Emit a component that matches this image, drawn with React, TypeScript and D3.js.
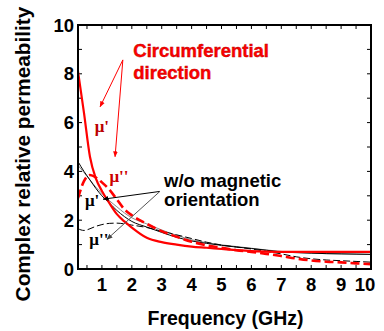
import React from 'react';
import * as d3 from 'd3';

// frequency grid (GHz)
const freq = [0.2, 0.4, 0.6, 0.8, 1, 1.25, 1.5, 1.75, 2, 2.5, 3, 3.5, 4, 4.5, 5, 5.5, 6, 6.5, 7, 7.5, 8, 8.5, 9, 9.5, 10];

// circumferential direction
const circReal = [8.1, 6.4, 4.6, 3.7, 3.2, 2.7, 2.25, 1.95, 1.7, 1.28, 1.1, 1.0, 0.92, 0.87, 0.82, 0.77, 0.73, 0.71, 0.7, 0.7, 0.7, 0.7, 0.7, 0.7, 0.7];
const circImag = [2.9, 3.6, 3.85, 3.75, 3.55, 3.25, 2.85, 2.45, 2.2, 1.85, 1.55, 1.32, 1.12, 0.97, 0.87, 0.77, 0.7, 0.62, 0.53, 0.43, 0.35, 0.3, 0.27, 0.23, 0.2];

// w/o magnetic orientation
const woReal = [4.4, 4.0, 3.65, 3.3, 3.0, 2.7, 2.4, 2.15, 1.95, 1.72, 1.5, 1.3, 1.15, 1.05, 0.97, 0.9, 0.84, 0.77, 0.7, 0.67, 0.65, 0.63, 0.62, 0.61, 0.6];
const woReal2 = [4.25, 3.95, 3.65, 3.35, 3.1, 2.8, 2.55, 2.3, 2.1, 1.85, 1.6, 1.38, 1.2, 1.08, 0.99, 0.92, 0.85, 0.78, 0.72, 0.68, 0.65, 0.63, 0.62, 0.61, 0.6];
const woImag = [1.65, 1.58, 1.65, 1.75, 1.82, 1.87, 1.88, 1.85, 1.8, 1.7, 1.55, 1.4, 1.25, 1.1, 0.98, 0.9, 0.82, 0.72, 0.62, 0.5, 0.42, 0.37, 0.34, 0.31, 0.28];

const xTickLabels = [1, 2, 3, 4, 5, 6, 7, 8, 9, 10];
const yTickLabels = [0, 2, 4, 6, 8, 10];

const W = 384;
const H = 331;
const margin = { top: 25, right: 13, bottom: 61, left: 78 };

const font = '"Liberation Sans", Arial, sans-serif';
const serif = '"Liberation Serif", "Times New Roman", serif';

const App = () => {
  const x = d3.scaleLinear().domain([0.2, 10]).range([margin.left, W - margin.right]);
  const y = d3.scaleLinear().domain([0, 10]).range([H - margin.bottom - 1, margin.top]);

  const line = (vals: number[]) =>
    d3.line<number>()
      .x((_, i) => x(freq[i]))
      .y(d => y(d))
      .curve(d3.curveMonotoneX)(vals) || '';

  const x0 = x.range()[0];
  const x1 = x.range()[1];
  const y0 = y.range()[0];
  const y1 = y.range()[1];

  const xMinor = d3.range(0.5, 10.001, 0.5);
  const yMinor = d3.range(1, 10, 1);

  // annotation arrows in data coordinates
  const redFrom = [1.7, 8.57];
  const redTips = [[0.94, 6.65], [1.44, 4.6]];
  const blackFrom = [2.94, 3.18];
  const blackTips = [[1.04, 2.86, '#000'], [1.17, 1.22, '#555']];

  return (
    <svg width={W} height={H} style={{ position: 'absolute', left: 0, top: 0, background: '#fff' }}>
      <defs>
        <marker id="ahRed" viewBox="0 0 10 10" refX="9" refY="5" markerWidth="6" markerHeight="6" orient="auto">
          <path d="M0,1 L10,5 L0,9 z" fill="#f00" />
        </marker>
        <marker id="ahBlack" viewBox="0 0 10 10" refX="9" refY="5" markerWidth="6" markerHeight="6" orient="auto">
          <path d="M0,1 L10,5 L0,9 z" fill="#000" />
        </marker>
        <marker id="ahGray" viewBox="0 0 10 10" refX="9" refY="5" markerWidth="6" markerHeight="6" orient="auto">
          <path d="M0,1 L10,5 L0,9 z" fill="#444" />
        </marker>
        <clipPath id="plot">
          <rect x={x0} y={y1} width={x1 - x0} height={y0 - y1} />
        </clipPath>
      </defs>

      {/* ticks */}
      {xMinor.map(t => (
        <g key={'xt' + t} stroke="#000" strokeWidth={1}>
          <line x1={x(t)} x2={x(t)} y1={y0} y2={y0 - 4} />
          <line x1={x(t)} x2={x(t)} y1={y1} y2={y1 + 4} />
        </g>
      ))}
      {yMinor.map(t => (
        <g key={'yt' + t} stroke="#000" strokeWidth={1}>
          <line x1={x0} x2={x0 + 4} y1={y(t)} y2={y(t)} />
          <line x1={x1} x2={x1 - 4} y1={y(t)} y2={y(t)} />
        </g>
      ))}

      {/* curves */}
      <g clipPath="url(#plot)" fill="none">
        <path d={line(woReal2)} stroke="#888" strokeWidth={1} />
        <path d={line(woReal)} stroke="#000" strokeWidth={1} />
        <path d={line(woImag)} stroke="#000" strokeWidth={1} strokeDasharray="7,3" />
        <path d={line(circReal)} stroke="#f00" strokeWidth={2.2} />
        <path d={line(circImag)} stroke="#f00" strokeWidth={2.6} strokeDasharray="9,4" />
      </g>

      {/* frame */}
      <rect x={x0} y={y1} width={x1 - x0} height={y0 - y1} fill="none" stroke="#000" strokeWidth={2} />

      {/* tick labels */}
      {xTickLabels.map(t => (
        <text key={'xl' + t} x={t === 10 ? x(t) - 6 : x(t)} y={y0 + 22} textAnchor="middle"
          fontFamily={font} fontWeight="bold" fontSize={18.5}>{t}</text>
      ))}
      {yTickLabels.map(t => (
        <text key={'yl' + t} x={x0 - 4} y={y(t) + 6.5} textAnchor="end"
          fontFamily={font} fontWeight="bold" fontSize={18.5}>{t}</text>
      ))}

      {/* axis titles */}
      <text x={(x0 + x1) / 2 + 1} y={H - 6} textAnchor="middle" fontFamily={font} fontWeight="bold" fontSize={19.5}>
        Frequency (GHz)
      </text>
      <text transform={`translate(30,${(y0 + y1) / 2 + 7}) rotate(-90)`} textAnchor="middle"
        fontFamily={font} fontWeight="bold" fontSize={20.8}>
        Complex relative permeability
      </text>

      {/* annotations: circumferential */}
      {redTips.map((tp, i) => (
        <line key={'ra' + i} x1={x(redFrom[0])} y1={y(redFrom[1])} x2={x(tp[0])} y2={y(tp[1])}
          stroke="#f00" strokeWidth={1} markerEnd="url(#ahRed)" />
      ))}
      <text x={x(2.05)} y={y(8.68)} fill="#f00" stroke="#b00" strokeWidth={0.4}
        fontFamily={font} fontWeight="bold" fontSize={18.5}>Circumferential</text>
      <text x={x(2.05)} y={y(7.8)} fill="#f00" stroke="#b00" strokeWidth={0.4}
        fontFamily={font} fontWeight="bold" fontSize={18.5}>direction</text>
      <text x={x(0.76)} y={y(5.6)} fill="#b00" fontFamily={serif} fontWeight="bold" fontSize={17}>μ'</text>
      <text x={x(1.25)} y={y(3.55)} fill="#c00" fontFamily={serif} fontWeight="bold" fontSize={17}>μ''</text>

      {/* annotations: w/o magnetic orientation */}
      {blackTips.map((tp, i) => (
        <line key={'ba' + i} x1={x(blackFrom[0])} y1={y(blackFrom[1])} x2={x(tp[0] as number)} y2={y(tp[1] as number)}
          stroke={tp[2] as string} strokeWidth={1} markerEnd={i === 0 ? 'url(#ahBlack)' : 'url(#ahGray)'} />
      ))}
      <text x={x(3.08)} y={y(3.38)} fontFamily={font} fontWeight="bold" fontSize={18.5}>w/o magnetic</text>
      <text x={x(3.08)} y={y(2.6)} fontFamily={font} fontWeight="bold" fontSize={18.5}>orientation</text>
      <text x={x(0.43)} y={y(2.6)} fill="#000" fontFamily={serif} fontWeight="bold" fontSize={17}>μ'</text>
      <text x={x(0.58)} y={y(0.98)} fill="#000" fontFamily={serif} fontWeight="bold" fontSize={17}>μ''</text>
    </svg>
  );
};

export default App;
